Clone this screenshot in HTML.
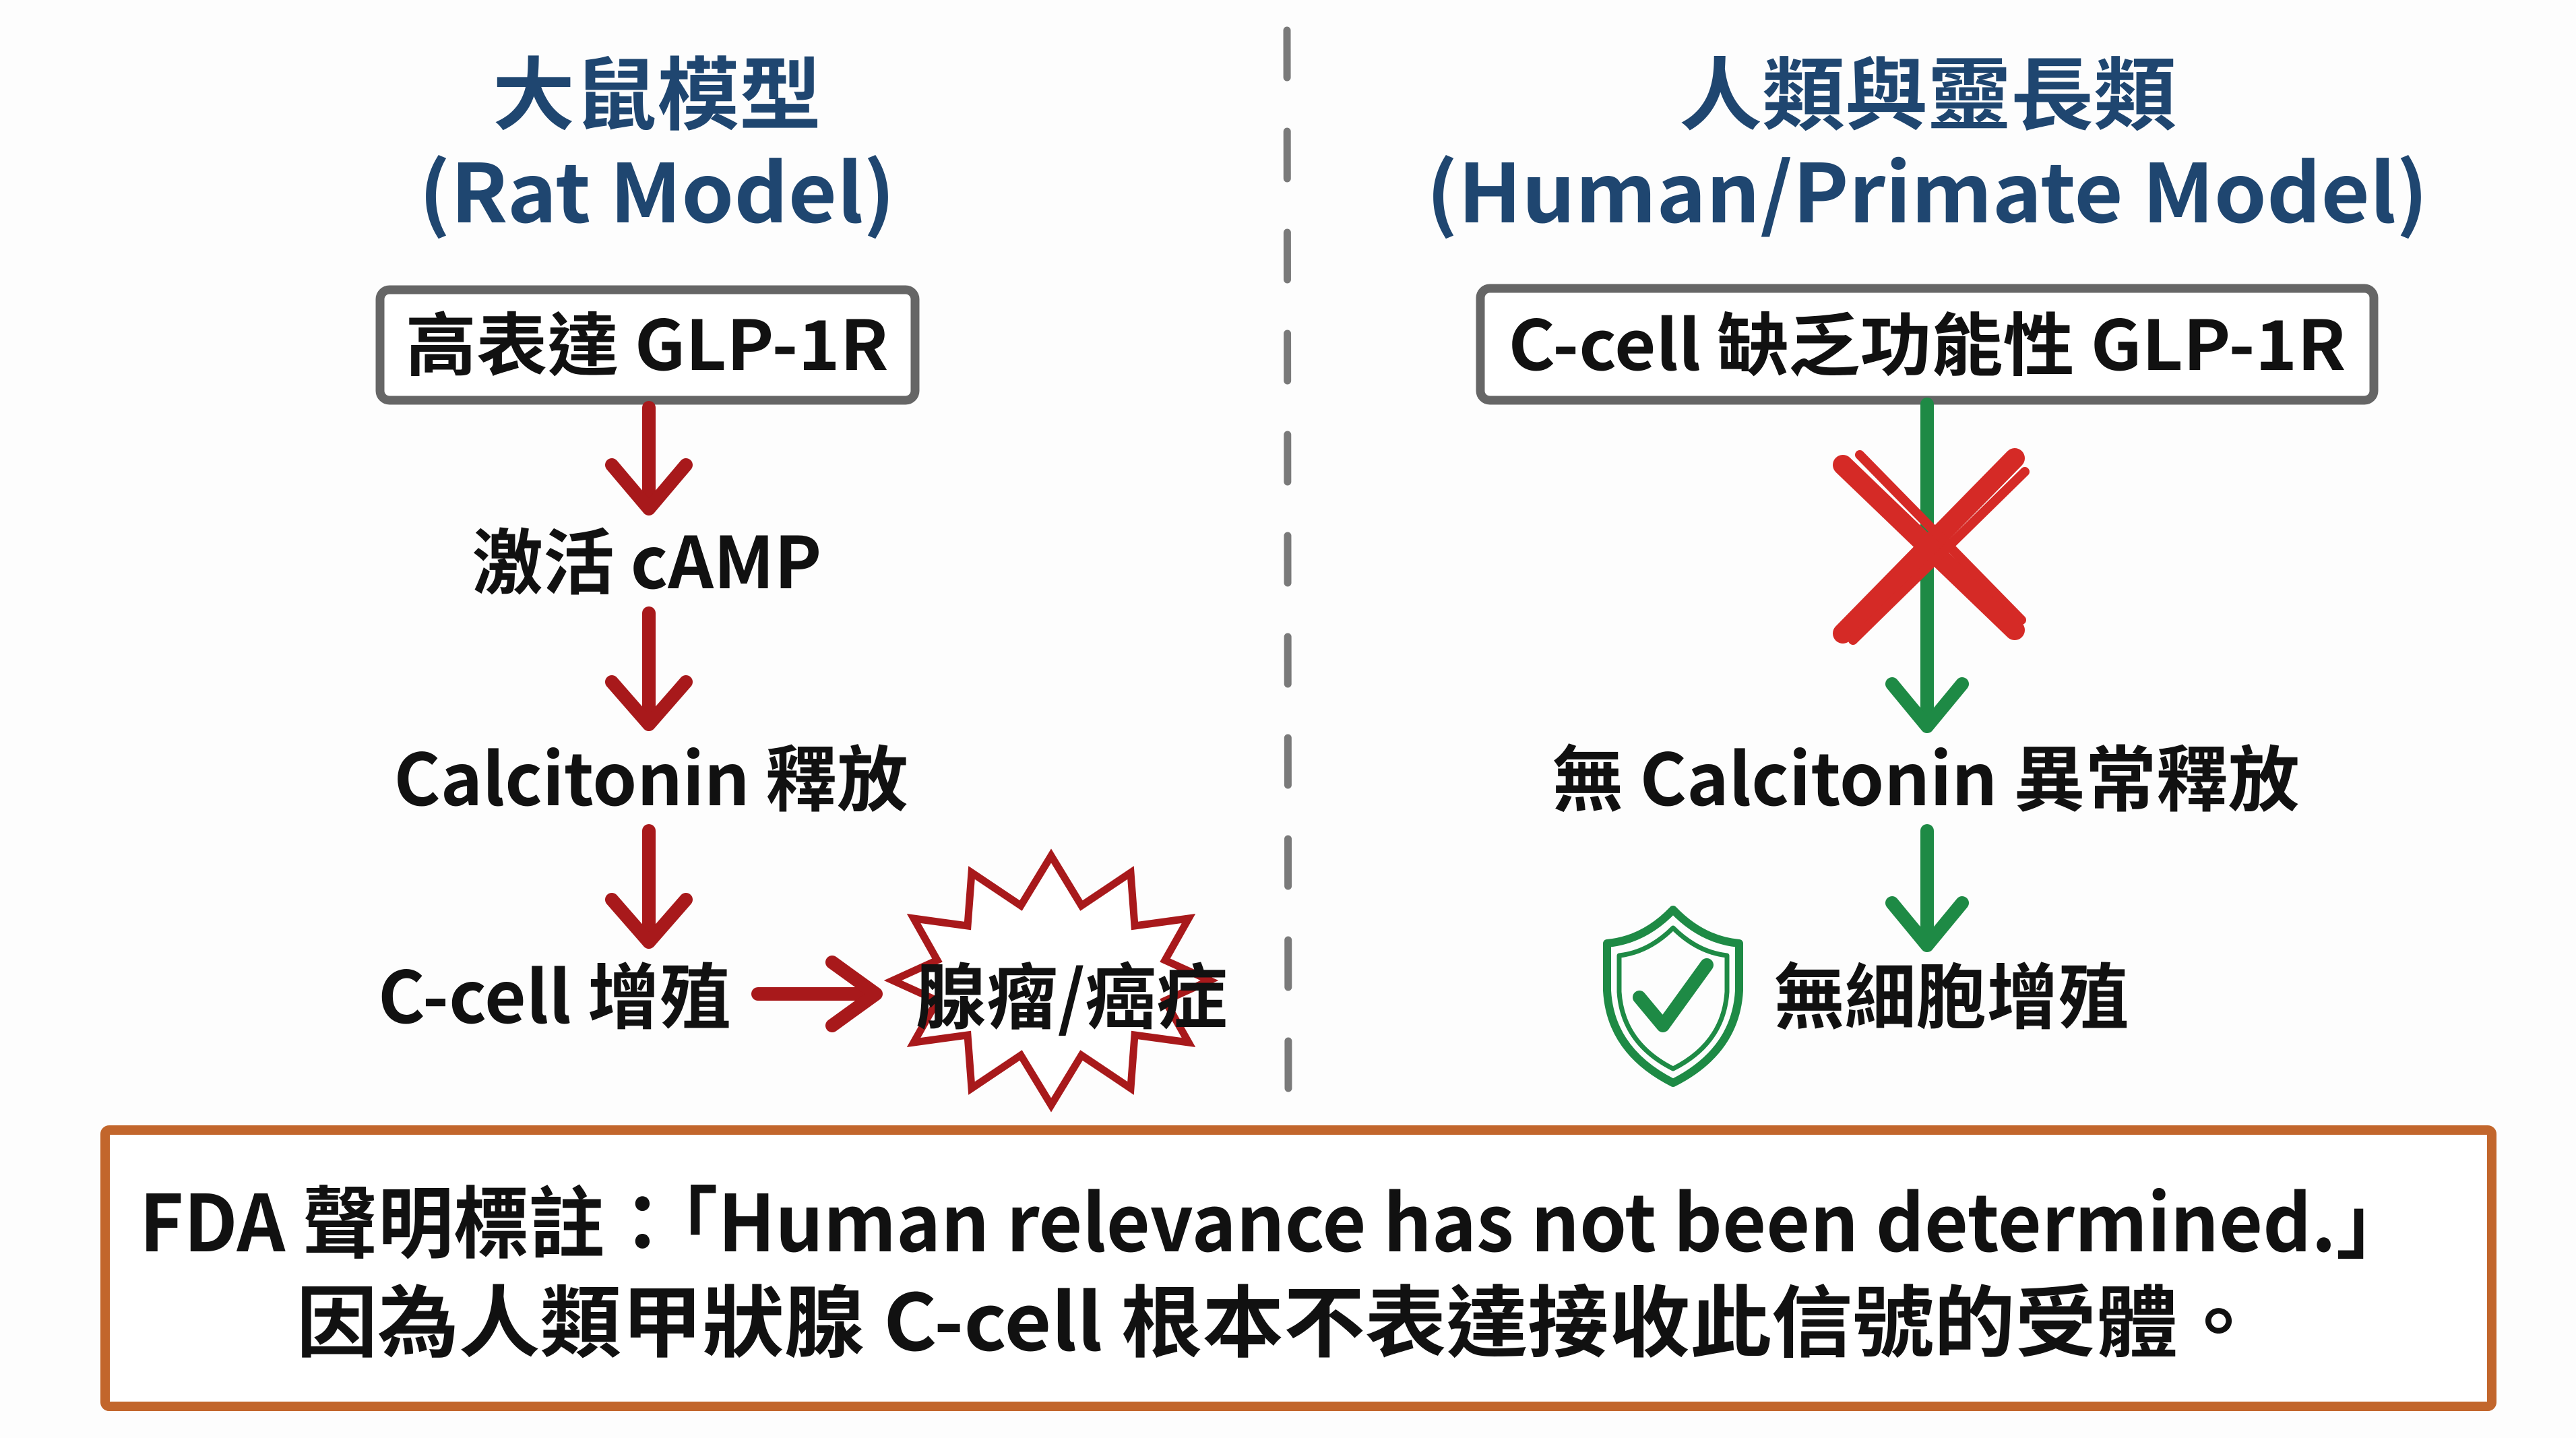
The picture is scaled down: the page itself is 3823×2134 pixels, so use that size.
<!DOCTYPE html>
<html><head><meta charset="utf-8"><style>
html,body{margin:0;padding:0;background:#fff;}
svg{display:block;}
text{font-family:"Noto Sans CJK TC","Liberation Sans",sans-serif;font-weight:bold;}
</style></head><body>
<svg width="3823" height="2134" viewBox="0 0 3823 2134" xmlns="http://www.w3.org/2000/svg">
<rect width="3823" height="2134" fill="#fdfdfd"/>
<!-- divider -->
<line x1="1910" y1="45" x2="1912" y2="1625" stroke="#7a7a7a" stroke-width="11" stroke-linecap="round" stroke-dasharray="70 80"/>
<!-- titles -->
<g fill="#1f4670" text-anchor="middle">
<text x="975" y="183" font-size="118" textLength="488" lengthAdjust="spacingAndGlyphs">大鼠模型</text>
<text x="975" y="330" font-size="120" textLength="707" lengthAdjust="spacingAndGlyphs">(Rat Model)</text>
<text x="2861" y="183" font-size="118" textLength="738" lengthAdjust="spacingAndGlyphs">人類與靈長類</text>
<text x="2860" y="330" font-size="120" textLength="1487" lengthAdjust="spacingAndGlyphs">(Human/Primate Model)</text>
</g>
<!-- boxes -->
<rect x="564" y="430" width="794" height="164" rx="14" fill="#fff" stroke="#666" stroke-width="13"/>
<rect x="2197" y="428" width="1326" height="166" rx="14" fill="#fff" stroke="#666" stroke-width="13"/>
<g fill="#111" text-anchor="middle">
<text x="960" y="549" font-size="102" textLength="717" lengthAdjust="spacingAndGlyphs">高表達 GLP-1R</text>
<text x="2860" y="549" font-size="102" textLength="1243" lengthAdjust="spacingAndGlyphs">C-cell 缺乏功能性 GLP-1R</text>
<text x="960" y="873" font-size="106" textLength="519" lengthAdjust="spacingAndGlyphs">激活 cAMP</text>
<text x="966" y="1195" font-size="106" textLength="763" lengthAdjust="spacingAndGlyphs">Calcitonin 釋放</text>
<text x="823" y="1518" font-size="106" textLength="524" lengthAdjust="spacingAndGlyphs">C-cell 增殖</text>
<text x="2858" y="1195" font-size="106" textLength="1109" lengthAdjust="spacingAndGlyphs">無 Calcitonin 異常釋放</text>
<text x="2896" y="1518" font-size="106" textLength="527" lengthAdjust="spacingAndGlyphs">無細胞增殖</text>
</g>
<!-- red arrows -->
<g stroke="#a8191b" stroke-width="20" fill="none" stroke-linecap="round" stroke-linejoin="round">
<line x1="963" y1="605" x2="963" y2="745"/><polyline points="908,690 963,755 1018,690"/>
<line x1="963" y1="910" x2="963" y2="1068"/><polyline points="908,1012 963,1075 1018,1012"/>
<line x1="963" y1="1233" x2="963" y2="1390"/><polyline points="908,1335 963,1398 1018,1335"/>
<line x1="1125" y1="1475" x2="1290" y2="1475"/><polyline points="1235,1428 1300,1475 1235,1522"/>
</g>
<!-- burst -->
<polygon points="1795,1455 1729,1485 1764,1547 1684,1536 1678,1615 1605,1566 1560,1640 1515,1566 1442,1615 1436,1536 1356,1547 1391,1485 1325,1455 1391,1425 1356,1363 1436,1374 1442,1295 1515,1344 1560,1270 1605,1344 1678,1295 1684,1374 1764,1363 1729,1425" fill="#fff" stroke="#a8191b" stroke-width="11" stroke-linejoin="miter"/>
<text x="1590" y="1518" font-size="106" fill="#111" text-anchor="middle" textLength="463" lengthAdjust="spacingAndGlyphs">腺瘤/癌症</text>
<!-- green path right -->
<g stroke="#1e8a45" stroke-width="20" fill="none" stroke-linecap="round" stroke-linejoin="round">
<line x1="2860" y1="600" x2="2860" y2="1070"/><polyline points="2808,1015 2860,1078 2912,1015"/>
<line x1="2860" y1="1233" x2="2860" y2="1395"/><polyline points="2808,1340 2860,1403 2912,1340"/>
</g>
<!-- red X -->
<g stroke="#d52a26" stroke-width="30" stroke-linecap="round">
<line x1="2735" y1="690" x2="2990" y2="935"/>
<line x1="2990" y1="680" x2="2735" y2="940"/>
<line x1="2760" y1="675" x2="3000" y2="920" stroke-width="14"/>
<line x1="3005" y1="700" x2="2750" y2="950" stroke-width="14"/>
</g>
<!-- shield -->
<g fill="none" stroke="#1e8a45" stroke-linejoin="round">
<path d="M2483 1350 Q2440 1395 2385 1400 L2385 1470 Q2390 1560 2483 1607 Q2576 1560 2581 1470 L2581 1400 Q2526 1395 2483 1350 Z" stroke-width="12"/>
<path d="M2483 1377 Q2447 1413 2403 1418 L2403 1472 Q2408 1548 2483 1586 Q2558 1548 2563 1472 L2563 1418 Q2519 1413 2483 1377 Z" stroke-width="7"/>
<polyline points="2433,1480 2468,1522 2533,1432" stroke-width="20" stroke-linecap="round"/>
</g>
<!-- bottom box -->
<rect x="156" y="1677" width="3542" height="410" rx="6" fill="#fff" stroke="#c2662c" stroke-width="14"/>
<g fill="#111" text-anchor="middle">
<text x="1893" y="1857" font-size="116" textLength="3372" lengthAdjust="spacingAndGlyphs">FDA 聲明標註：「Human relevance has not been determined.」</text>
<text x="1896" y="2004" font-size="116" textLength="2913" lengthAdjust="spacingAndGlyphs">因為人類甲狀腺 C-cell 根本不表達接收此信號的受體。</text>
</g>
</svg>
</body></html>
